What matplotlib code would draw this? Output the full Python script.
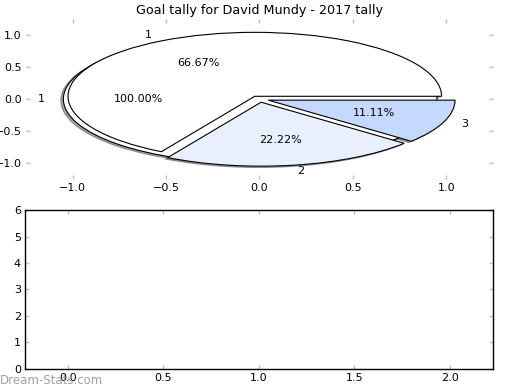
import matplotlib
matplotlib.use('Agg')
import matplotlib.pyplot as plt

# Datos del gráfico (tally de goles)
titulo = 'Goal tally for David Mundy - 2017 tally'
total_vals = [1]
total_labels = ['1']
tally_vals = [6, 2, 1]
tally_labels = ['1', '2', '3']
tally_colors = ['white', '#e9f0fd', '#c5d8fd']
x_ticks = [-1.0, -0.5, 0.0, 0.5, 1.0]
y_ticks = [-1.0, -0.5, 0.0, 0.5, 1.0]
bar_x_ticks = [0.0, 0.5, 1.0, 1.5, 2.0]
bar_y_ticks = [0, 1, 2, 3, 4, 5, 6]

plt.rcParams['font.family'] = 'DejaVu Sans'
plt.rcParams['font.size'] = 8

fig = plt.figure(figsize=(5.2, 3.9), dpi=100)
ax1 = fig.add_axes([0.05, 0.541, 0.898, 0.410])
ax2 = fig.add_axes([0.048, 0.054, 0.9, 0.4075])

wp = {'edgecolor': 'black', 'linewidth': 0.8}
sombra = {'ox': -0.01, 'oy': -0.015}
ax1.pie(total_vals, labels=total_labels, colors=['white'], explode=[0.05],
        autopct='%1.2f%%', shadow=sombra, wedgeprops=wp)
ax1.pie(tally_vals, labels=tally_labels, colors=tally_colors,
        explode=[0.05, 0.05, 0.05], autopct='%1.2f%%', shadow=sombra, wedgeprops=wp)
ax1.set_aspect('auto')
ax1.set_xlim(-1.25, 1.25)
ax1.set_ylim(-1.25, 1.25)
ax1.set_xticks(x_ticks)
ax1.set_yticks(y_ticks)
ax1.set_frame_on(False)
ax1.set_title(titulo, fontsize=9.2, pad=4)

ax2.set_xlim(-0.225, 2.225)
ax2.set_ylim(0, 6)
ax2.set_xticks(bar_x_ticks)
ax2.set_yticks(bar_y_ticks)
for s in ax2.spines.values():
    s.set_linewidth(1.0)

for ax in (ax1, ax2):
    ax.tick_params(direction='in', length=3, width=1, color='#c0c0c0',
                   top=True, right=True, labelsize=8, pad=3)

fig.text(0.0, 0.025, 'Dream-Stats.com', color='#a0a0a0', fontsize=8.5,
         va='center', ha='left')

plt.savefig('out.png', dpi=100)
